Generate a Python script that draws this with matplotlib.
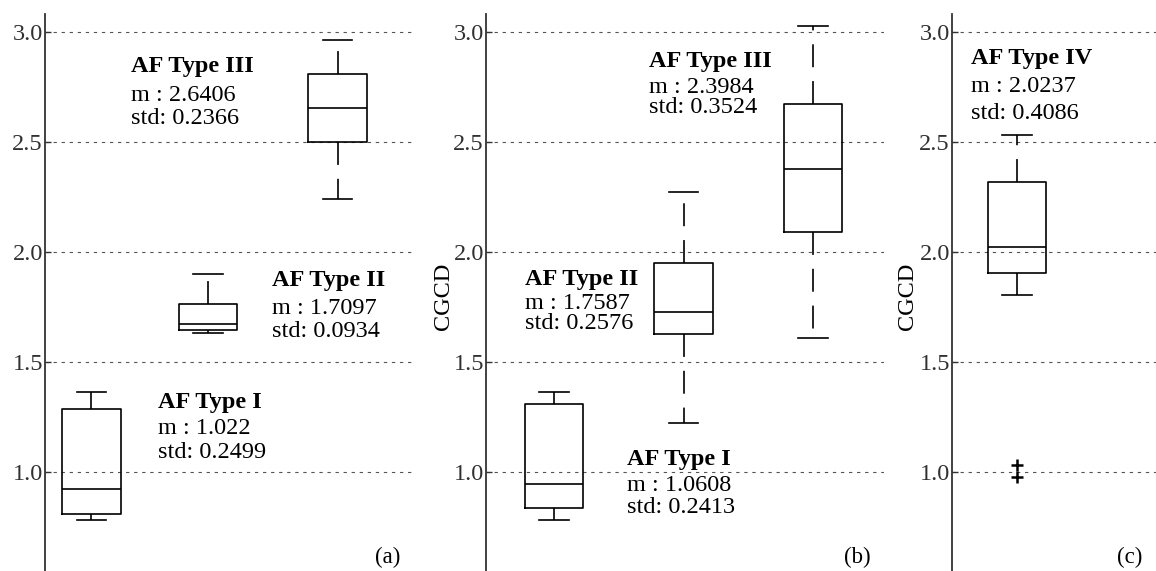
import matplotlib
matplotlib.use("Agg")
import matplotlib.pyplot as plt

# ---------------- data ----------------
labels_a = ["AF Type I", "AF Type II", "AF Type III"]
q1_a = [0.810, 1.644, 2.499]
med_a = [0.921, 1.671, 2.656]
q3_a = [1.288, 1.765, 2.810]
lo_a = [0.783, 1.630, 2.240]
hi_a = [1.364, 1.899, 2.964]
mean_a = ["1.022", "1.7097", "2.6406"]
std_a = ["0.2499", "0.0934", "0.2366"]

labels_b = ["AF Type I", "AF Type II", "AF Type III"]
q1_b = [0.836, 1.629, 2.090]
med_b = [0.944, 1.729, 2.379]
q3_b = [1.308, 1.950, 2.671]
lo_b = [0.783, 1.224, 1.608]
hi_b = [1.364, 2.273, 3.029]
mean_b = ["1.0608", "1.7587", "2.3984"]
std_b = ["0.2413", "0.2576", "0.3524"]

labels_c = ["AF Type IV"]
q1_c = [1.903]
med_c = [2.024]
q3_c = [2.317]
lo_c = [1.806]
hi_c = [2.532]
fliers_c = [[1.032, 0.976]]
mean_c = ["2.0237"]
std_c = ["0.4086"]

yticks = [1.0, 1.5, 2.0, 2.5, 3.0]
panel_tags = ["(a)", "(b)", "(c)"]

# ---------------- style ----------------
plt.rcParams['font.family'] = ['Liberation Serif', 'DejaVu Serif']
plt.rcParams['lines.scale_dashes'] = False

W, H = 1156, 571
fig = plt.figure(figsize=(W / 100, H / 100), dpi=100)


def fpos(x, y):
    return x / W, 1 - y / H


def make_ax(left, right, xlim):
    top, bottom = 14, 571
    ax = fig.add_axes([left / W, 1 - bottom / H, (right - left) / W, (bottom - top) / H])
    ax.set_xlim(*xlim)
    ax.set_ylim(0.55, 3.082)
    for s in ['top', 'right', 'bottom']:
        ax.spines[s].set_visible(False)
    ax.spines['left'].set_color('#333333')
    ax.spines['left'].set_linewidth(1.3)
    ax.set_xticks([])
    ax.set_yticks(yticks)
    ax.set_yticklabels([f"{t:.1f}" for t in yticks])
    ax.tick_params(axis='y', direction='in', length=4, width=1.0, colors='#333333',
                   labelsize=17.5, pad=1.5, labelcolor='#303030')
    ax.yaxis.grid(True, linestyle=(0, (2.4, 3.4)), color='#555555', linewidth=0.8)
    ax.set_axisbelow(True)
    return ax


def draw_boxes(ax, labels, q1, med, q3, lo, hi, positions, fliers=None):
    stats = []
    for i, lab in enumerate(labels):
        stats.append(dict(label=lab, q1=q1[i], med=med[i], q3=q3[i],
                          whislo=lo[i], whishi=hi[i],
                          fliers=(fliers[i] if fliers else [])))
    ax.bxp(stats, positions=positions, widths=0.45, showfliers=True,
           boxprops=dict(color='black', linewidth=1.2),
           medianprops=dict(color='black', linewidth=1.2),
           whiskerprops=dict(color='black', linewidth=1.2, linestyle=(0, (16.5, 10))),
           capprops=dict(color='black', linewidth=1.2),
           flierprops=dict(marker='+', markersize=9, markeredgewidth=1.8,
                           markeredgecolor='black', linestyle='none'),
           manage_ticks=False)


def annot(x, ys, title, m, s):
    fig.text(*fpos(x, ys[0]), title, fontsize=17.5, fontweight='bold', va='baseline', ha='left')
    fig.text(*fpos(x, ys[1]), f"m : {m}", fontsize=17.5, va='baseline', ha='left')
    fig.text(*fpos(x, ys[2]), f"std: {s}", fontsize=17.5, va='baseline', ha='left')


# panel (a)
ax_a = make_ax(45, 412, (0.642, 3.474))
draw_boxes(ax_a, labels_a, q1_a, med_a, q3_a, lo_a, hi_a, [1, 1.9, 2.9])
# panel (b)
ax_b = make_ax(486, 884, (0.475, 3.548))
draw_boxes(ax_b, labels_b, q1_b, med_b, q3_b, lo_b, hi_b, [1, 2, 3])
# panel (c)
ax_c = make_ax(952, 1156, (0.498, 2.073))
draw_boxes(ax_c, labels_c, q1_c, med_c, q3_c, lo_c, hi_c, [1], fliers=fliers_c)

# annotations
annot(157.7, (408.3, 434.3, 458.3), labels_a[0], mean_a[0], std_a[0])
annot(271.7, (286, 313.5, 337.3), labels_a[1], mean_a[1], std_a[1])
annot(131, (71.7, 101, 124.3), labels_a[2], mean_a[2], std_a[2])

annot(626.7, (465, 491, 513.3), labels_b[0], mean_b[0], std_b[0])
annot(525, (285, 309.3, 329.3), labels_b[1], mean_b[1], std_b[1])
annot(649.3, (66.7, 92.7, 113.3), labels_b[2], mean_b[2], std_b[2])

annot(970.7, (64.3, 91.7, 119), labels_c[0], mean_c[0], std_c[0])

# y labels
for xc in (443, 908):
    fig.text(*fpos(xc, 296), "CGCD", fontsize=17.5, rotation=90, ha='center', va='center')

# panel tags
for tag, xc in zip(panel_tags, (388, 857, 1130)):
    fig.text(*fpos(xc, 557), tag, fontsize=16.5, ha='center', va='center')

fig.savefig("out.png", dpi=100)
